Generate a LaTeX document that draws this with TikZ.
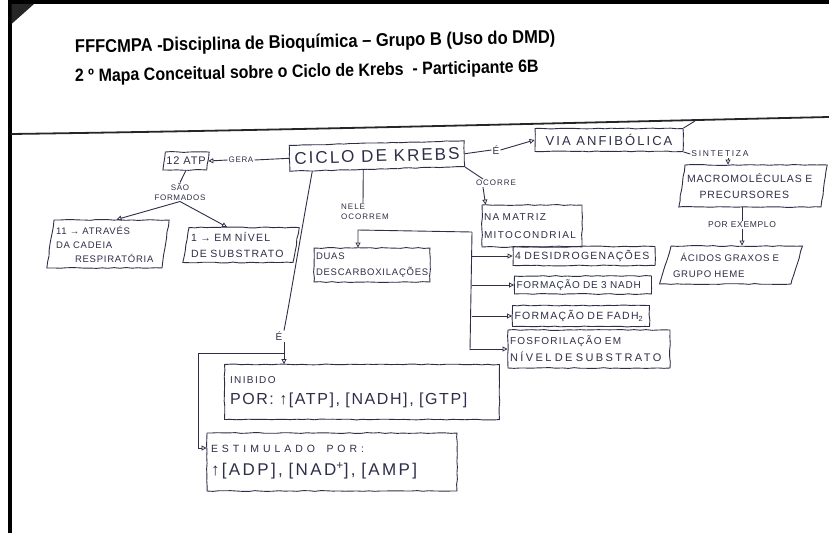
\documentclass[tikz,border=0pt]{standalone}
\usepackage{fontspec}
\setmainfont{Liberation Sans}
\newfontfamily\hand[LetterSpace=8]{Liberation Sans}
\usetikzlibrary{shapes.geometric,arrows.meta,decorations.pathmorphing,calc}
\definecolor{ink}{RGB}{46,46,72}
\newcommand\hs[2]{\hand\fontsize{#1}{#2}\selectfont}
\newcommand\wide[1]{\addfontfeature{LetterSpace=#1}}
\begin{document}
\begin{tikzpicture}[x=1pt,y=-1pt,
  hbox/.style={draw=ink, line width=0.9pt, text=ink, align=left, inner sep=2pt,
    decorate, decoration={random steps, segment length=6pt, amplitude=0.45pt}},
  para/.style={shape=trapezium, trapezium left angle=#1, trapezium right angle=180-#1,
    trapezium stretches body},
  lbl/.style={text=ink, inner sep=1pt, align=left},
  con/.style={draw=ink, line width=0.9pt},
  arr/.style={con, -{Triangle[open, length=5pt, width=5pt, line width=0.8pt]}}
]
\useasboundingbox (0,0) rectangle (829,533);
\fill[white] (0,0) rectangle (829,533);

% page edges and folded corner
\fill[black] (7.5,0) rectangle (11.5,533);
\fill[black] (7.5,0) rectangle (829,4);
\fill[black!85] (11.5,4) -- (34,4) -- (11.5,24) -- cycle;

% header
\node[anchor=base west, rotate=1.2, inner sep=0pt,
  font=\bfseries\fontsize{16}{18}\selectfont] (t1) at (75,53)
  {\scalebox{1.03}[1.15]{FFFCMPA -Disciplina de Bioquímica – Grupo B (Uso do DMD)}};
\node[anchor=base west, rotate=1.2, inner sep=0pt,
  font=\bfseries\fontsize{15.5}{18}\selectfont] (t2) at (75,82)
  {\scalebox{1.03}[1.15]{2 º Mapa Conceitual sobre o Ciclo de Krebs \ - Participante 6B}};
\draw[line width=1.8pt, black!85] (11,134) .. controls (300,130) and (560,123) .. (829,117);

% central concept
\node[hbox, minimum width=175, minimum height=26, rotate=1.5,
  font=\hs{17}{18}\wide{12}] (krebs) at (377,156) {CICLO DE KREBS};

% ATP branch
\node[lbl, font=\hs{8}{9}] (gera) at (241,160) {GERA};
\node[hbox, para=76, minimum width=46, minimum height=18, inner sep=1pt,
  font=\hs{11}{12}] (atp) at (186,161) {12 ATP};
\node[lbl, align=center, font=\hs{8}{9.5}] (sao) at (180,192) {SÃO\\FORMADOS};
\node[hbox, para=80, minimum width=113, minimum height=48, text width=104,
  font=\hs{9.5}{14}] (resp) at (108,244)
  {11 → ATRAVÉS\\DA CADEIA\\\hspace*{2em}RESPIRATÓRIA};
\node[hbox, para=78, minimum width=112, minimum height=35, text width=100,
  font=\hs{10.5}{16}\wide{12}] (subst) at (241,245) {1 → EM NÍVEL\\DE SUBSTRATO};

% anabolic branch
\node[lbl, font=\hs{10}{11}] (e1) at (496,150) {É};
\node[hbox, minimum width=148, minimum height=23, font=\hs{13}{14}\wide{16}]
  (via) at (609,140) {VIA ANFIBÓLICA};
\node[lbl, font=\hs{8.5}{9}\wide{20}] (sint) at (720,154) {SINTETIZA};
\node[hbox, para=78, minimum width=146, minimum height=42, text width=132,
  font=\hs{10.5}{16}] (macro) at (753,186)
  {MACROMOLÉCULAS E\\\hspace*{1.2em}PRECURSORES};
\node[lbl, font=\hs{8.5}{9}] (porex) at (742,225) {POR EXEMPLO};
\node[hbox, para=68, minimum width=140, minimum height=38, text width=116,
  font=\hs{9.6}{16}] (acidos) at (731,265) {\hspace*{0.8em}ÁCIDOS GRAXOS E\\GRUPO HEME};

% location and reactions
\node[lbl, font=\hs{8}{9}\wide{12}] (ocorre) at (496,183) {OCORRE};
\node[hbox, minimum width=100, minimum height=42, text width=96,
  font=\hs{10}{18}\wide{14}] (matriz) at (532,226) {NA MATRIZ\\MITOCONDRIAL};
\node[lbl, font=\hs{8}{10}\wide{12}] (nele) at (365,212) {NELE\\OCORREM};
\node[hbox, minimum width=116, minimum height=34, text width=112,
  font=\hs{9.5}{16}] (duas) at (372,265) {DUAS\\DESCARBOXILAÇÕES};
\node[hbox, minimum width=142, minimum height=19, text width=138,
  font=\hs{10.5}{11}\wide{12}] (desid) at (584,256) {4 DESIDROGENAÇÕES};
\node[hbox, minimum width=137, minimum height=18, text width=133,
  font=\hs{10}{11}] (nadh) at (583,285) {FORMAÇÃO DE 3 NADH};
\node[hbox, minimum width=137, minimum height=21, text width=133,
  font=\hs{10.5}{11}\wide{12}] (fadh) at (581,316) {FORMAÇÃO DE FADH\textsubscript{2}};
\node[hbox, minimum width=162, minimum height=38, text width=158,
  font=\hs{10}{17}\wide{12}] (fosf) at (589,349)
  {FOSFORILAÇÃO EM\\{\hs{11}{17}\wide{22}NÍVEL DE SUBSTRATO}};

% regulation
\node[lbl, font=\hs{10}{11}] (e2) at (279,336) {É};
\node[hbox, minimum width=275, minimum height=55, text width=264,
  font=\hs{16}{21}\wide{10}] (inib) at (362,392)
  {{\hs{10}{12}\wide{14}INIBIDO}\\POR: ↑[ATP], [NADH], [GTP]};
\node[hbox, minimum width=250, minimum height=58, text width=242,
  font=\hs{17}{23}\wide{14}] (estim) at (332,462)
  {{\hs{10.5}{12}\wide{38}ESTIMULADO\ \ POR:}\\↑[ADP], [NAD\textsuperscript{+}], [AMP]};

% connectors
\draw[con] (krebs.west) -- (gera.east);
\draw[arr] (gera.west) -- (atp.east);
\draw[con] (atp.south) -- (sao.north);
\draw[arr] (sao.south) -- ([xshift=-16pt]resp.north east);
\draw[arr] (sao.south) -- ([xshift=4pt]subst.north west);

\draw[con] (krebs.east) -- (e1.west);
\draw[arr] (e1.east) -- (via.west);
\draw[con] (695,121) -- (via.north east);
\draw[con] (via.south east) -- (sint.west);
\draw[arr] ([xshift=8pt]sint.south) -- ([xshift=8pt]sint.south |- macro.north);
\draw[con] (porex.north |- macro.south) -- (porex.north);
\draw[arr] (porex.south) -- (porex.south |- acidos.north);

\draw[con] (krebs.south east) -- ([xshift=-13pt]ocorre.north);
\draw[arr] ([xshift=-13pt]ocorre.south) -- ([xshift=4pt]matriz.north west);

\draw[con] ($(krebs.south west)!0.42!(krebs.south east)$) -- ([xshift=-2pt]nele.north);
\coordinate (tt) at (472,232);
\coordinate (tb) at (470,350);
\coordinate (bl) at (358,230);
\draw[arr] (tt) -- (bl) -- (bl |- duas.north);
\draw[con] (tt) -- (tb);
\draw[arr] (tt |- desid.west) -- (desid.west);
\draw[arr] (tt |- nadh.west) -- (nadh.west);
\draw[arr] (tt |- fadh.west) -- (fadh.west);
\draw[arr] (tb |- fosf.west) -- (fosf.west);

\draw[con] ($(krebs.south west)!0.13!(krebs.south east)$)
  .. controls (298,250) and (290,300) .. ([xshift=5pt]e2.north);
\draw[arr] ([xshift=5pt]e2.south) -- ([xshift=5pt]e2.south |- inib.north);
\coordinate (j) at ($([xshift=5pt]e2.south)!0.55!([xshift=5pt]e2.south |- inib.north)$);
\coordinate (bend) at (198,400);
\coordinate (ea) at ([yshift=14pt]estim.west);
\draw[arr] (j) -- (j -| bend) -- (bend |- ea) -- (ea);
\end{tikzpicture}
\end{document}
